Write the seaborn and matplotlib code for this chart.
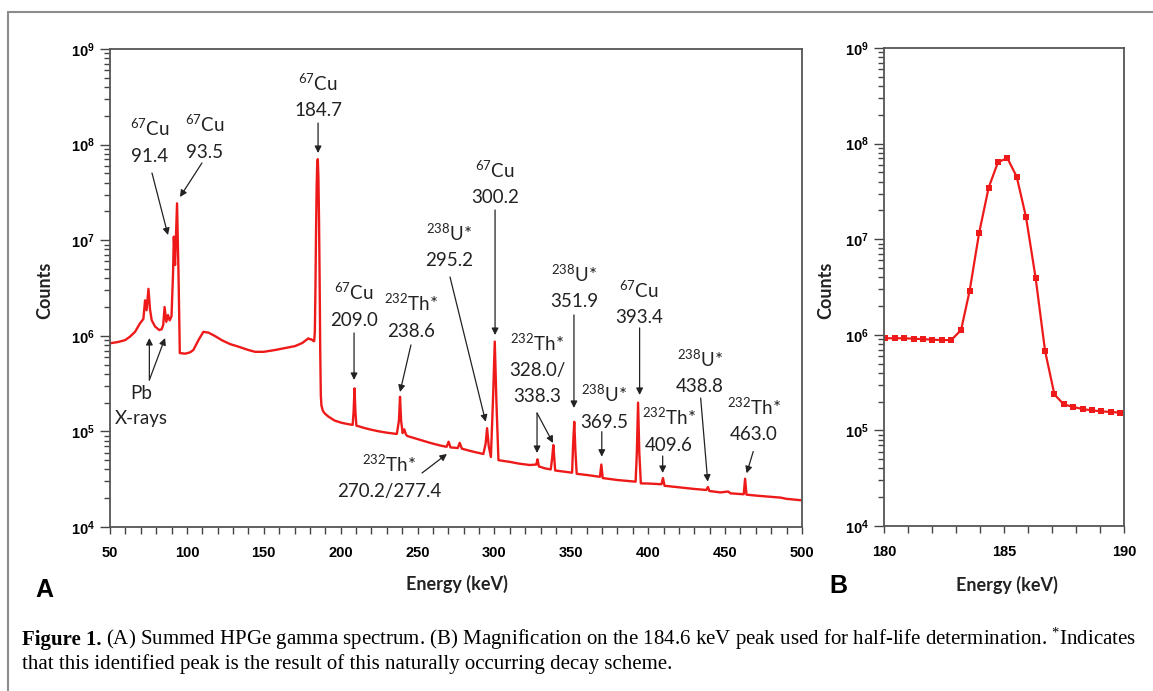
import matplotlib

matplotlib.use("Agg")
import matplotlib.pyplot as plt
import numpy as np
import pandas as pd
import seaborn as sns
from matplotlib.lines import Line2D
from matplotlib.ticker import FuncFormatter, LogLocator, MultipleLocator, NullFormatter


# summed HPGe spectrum (panel A); 180-190 keV comes from panel B
SPEC_ENERGY = [
    50.0, 55.0, 59.8, 63.0, 66.3, 69.5, 71.7, 72.8, 73.8, 75.0, 76.0, 77.1, 79.3, 82.0,
    83.6, 84.6, 85.5, 86.6, 87.7, 88.8, 90.0, 91.0, 91.5, 92.3, 93.6, 94.6, 95.4, 98.8,
    102.0, 104.2, 107.5, 110.7, 114.0, 118.0, 122.7, 128.0, 133.5, 140.0, 144.3, 150.0,
    157.3, 165.0, 170.3, 175.0, 179.0,
    192.0, 196.0, 200.6, 205.0, 207.8, 208.4, 209.0, 209.6, 210.2, 215.0, 220.0, 225.0,
    230.0, 236.5, 237.9, 238.6, 239.3, 240.3, 241.4, 242.4, 243.3, 250.0, 258.0, 265.0,
    268.9, 270.2, 271.4, 276.2, 277.4, 278.8, 285.0, 292.8, 294.3, 295.2, 296.3, 297.7,
    299.2, 300.2, 301.3, 302.6, 310.0, 316.0, 323.0, 327.2, 328.0, 328.9, 333.0, 336.6,
    337.5, 338.3, 339.5, 345.0, 350.5, 351.1, 351.9, 352.7, 353.5, 360.0, 368.6, 369.5,
    370.4, 380.0, 391.8, 392.6, 393.4, 394.2, 395.2, 400.0, 408.6, 409.6, 410.6, 420.0,
    430.0, 437.8, 438.8, 439.8, 447.0, 452.0, 453.5, 462.1, 463.0, 463.9, 470.0, 480.0,
    486.0, 490.0, 500.0,
]
SPEC_COUNTS = [
    8.35e5, 8.6e5, 9.0e5, 9.8e5, 1.1e6, 1.35e6, 1.5e6, 2.35e6, 1.85e6, 3.1e6, 1.9e6, 1.46e6, 1.25e6, 1.15e6,
    1.17e6, 1.3e6, 2.0e6, 1.4e6, 1.65e6, 1.45e6, 1.6e6, 4.5e6, 1.09e7, 5.5e6, 2.43e7, 4.0e6, 6.6e5, 6.5e5,
    6.7e5, 7.1e5, 9.0e5, 1.1e6, 1.08e6, 1.0e6, 9.0e5, 8.2e5, 7.7e5, 7.1e5, 6.8e5, 6.8e5,
    7.1e5, 7.5e5, 7.8e5, 8.4e5, 9.4e5,
    1.43e5, 1.3e5, 1.23e5, 1.19e5, 1.17e5, 1.6e5, 2.82e5, 1.6e5, 1.15e5, 1.09e5, 1.04e5, 1.0e5,
    9.7e4, 9.4e4, 1.3e5, 2.3e5, 1.3e5, 9.6e4, 1.05e5, 9.3e4, 8.95e4, 8.3e4, 7.6e4, 7.1e4,
    6.9e4, 7.8e4, 6.8e4, 6.7e4, 7.6e4, 6.6e4, 6.2e4, 5.8e4, 7.5e4, 1.08e5, 7.0e4, 5.4e4,
    2.5e5, 8.7e5, 2.0e5, 5.0e4, 4.8e4, 4.6e4, 4.45e4, 4.5e4, 5.1e4, 4.3e4, 4.1e4, 4.0e4,
    5.2e4, 7.2e4, 3.9e4, 3.8e4, 3.7e4, 7.0e4, 1.26e5, 6.0e4, 3.6e4, 3.5e4, 3.35e4, 4.5e4,
    3.25e4, 3.1e4, 2.98e4, 6.0e4, 2.0e5, 6.0e4, 2.86e4, 2.85e4, 2.8e4, 3.25e4, 2.7e4, 2.6e4,
    2.5e4, 2.44e4, 2.62e4, 2.38e4, 2.3e4, 2.35e4, 2.25e4, 2.2e4, 3.2e4, 2.18e4, 2.13e4, 2.07e4,
    2.03e4, 1.97e4, 1.9e4,
]

# channels around the 184.6 keV peak (panel B)
ZOOM_ENERGY = [
    180.06, 180.45, 180.84, 181.23, 181.62, 182.02, 182.41, 182.80, 183.21, 183.57, 183.96,
    184.36, 184.75, 185.14, 185.53, 185.92, 186.32, 186.71, 187.10, 187.49, 187.89, 188.28,
    188.67, 189.06, 189.45, 189.85,
]
ZOOM_COUNTS = [
    9.2e5, 9.2e5, 9.2e5, 9.1e5, 9.0e5, 8.9e5, 8.8e5, 8.8e5, 1.12e6, 2.9e6, 1.15e7,
    3.46e7, 6.4e7, 7.05e7, 4.5e7, 1.69e7, 3.9e6, 6.8e5, 2.38e5, 1.87e5, 1.76e5, 1.67e5,
    1.62e5, 1.58e5, 1.56e5, 1.53e5,
]

# peak labels: text lines, centre (keV), baseline of the last line (log10 counts)
PEAK_LABELS = [
    (["$^{67}$Cu", "91.4"], 76.0, 7.821),
    (["$^{67}$Cu", "93.5"], 111.8, 7.863),
    (["$^{67}$Cu", "184.7"], 185.3, 8.302),
    (["$^{67}$Cu", "209.0"], 208.7, 6.106),
    (["$^{232}$Th*", "238.6"], 245.7, 5.991),
    (["$^{232}$Th*", "270.2/277.4"], 231.4, 4.311),
    (["$^{238}$U*", "295.2"], 270.4, 6.730),
    (["$^{67}$Cu", "300.2"], 300.4, 7.386),
    (["$^{232}$Th*", "328.0/", "338.3"], 327.7, 5.311),
    (["$^{238}$U*", "351.9"], 351.7, 6.304),
    (["$^{238}$U*", "369.5"], 371.2, 5.039),
    (["$^{67}$Cu", "393.4"], 394.0, 6.131),
    (["$^{232}$Th*", "409.6"], 413.5, 4.798),
    (["$^{238}$U*", "438.8"], 433.7, 5.415),
    (["$^{232}$Th*", "463.0"], 468.8, 4.910),
    (["Pb", "X-rays"], 70.2, 5.077),
]
# arrows: (tail, head), each as (keV, log10 counts)
PEAK_ARROWS = [
    ((77.3, 7.703), (87.7, 7.054)),
    ((109.8, 7.808), (95.5, 7.452)),
    ((185.3, 8.226), (185.3, 7.912)),
    ((208.7, 6.030), (208.7, 5.538)),
    ((245.7, 5.904), (238.6, 5.412)),
    ((252.9, 4.565), (269.1, 4.764)),
    ((271.1, 6.615), (294.3, 5.101)),
    ((300.4, 7.316), (300.4, 6.008)),
    ((327.7, 5.192), (327.7, 4.774)),
    ((327.7, 5.192), (338.1, 4.879)),
    ((351.7, 6.218), (351.7, 5.245)),
    ((369.8, 4.997), (369.8, 4.735)),
    ((394.4, 6.082), (394.4, 5.381)),
    ((409.4, 4.743), (409.4, 4.565)),
    ((434.1, 5.349), (438.7, 4.474)),
    ((468.3, 4.790), (464.0, 4.562)),
    ((75.6, 5.538), (75.6, 5.977)),
    ((75.6, 5.538), (85.8, 5.977)),
]

CAPTION_1 = ("(A) Summed HPGe gamma spectrum. (B) Magnification on the 184.6 keV peak "
             "used for half-life determination. $^{*}$Indicates")
CAPTION_2 = "that this identified peak is the result of this naturally occurring decay scheme."

W, H = 1153, 691
RED = "#ee1a1a"
INK = "#222222"
LINE_PT = 18.3


def axes_box(left, top, right, bottom):
    return [left / W, 1 - bottom / H, (right - left) / W, (bottom - top) / H]


def style_axes(ax, xlim, major, minor):
    ax.set_yscale("log")
    ax.set_ylim(1e4, 1e9)
    ax.set_xlim(*xlim)
    ax.set_xlabel("")
    ax.set_ylabel("")
    ax.xaxis.set_major_locator(MultipleLocator(major))
    ax.xaxis.set_minor_locator(MultipleLocator(minor))
    ax.yaxis.set_major_locator(LogLocator(base=10, numticks=12))
    ax.yaxis.set_minor_locator(LogLocator(base=10, subs=np.arange(2, 10), numticks=12))
    ax.yaxis.set_minor_formatter(NullFormatter())
    ax.yaxis.set_major_formatter(FuncFormatter(lambda v, _: f"$10^{{{int(round(np.log10(v)))}}}$"))
    for spine in ax.spines.values():
        spine.set_visible(True)
        spine.set_color("#555555")
        spine.set_linewidth(1.3)
    ax.tick_params(which="both", direction="out", color="#444444", width=1.0, labelsize=10.5,
                   top=False, right=False)
    ax.tick_params(axis="y", which="major", length=7, pad=4)
    ax.tick_params(axis="y", which="minor", length=4)
    ax.tick_params(axis="x", which="major", length=5, pad=9)
    ax.tick_params(axis="x", which="minor", length=5)
    plt.setp(ax.get_xticklabels() + ax.get_yticklabels(),
             fontfamily="Liberation Sans", fontweight="bold", color="black")


def main() -> None:
    sns.set_style("ticks")
    plt.rcParams["font.family"] = ["Lato", "DejaVu Sans"]
    plt.rcParams["mathtext.default"] = "regular"

    fig = plt.figure(figsize=(W / 100, H / 100), dpi=100)
    ax_a = fig.add_axes(axes_box(110, 49, 802, 527))
    ax_b = fig.add_axes(axes_box(884, 48, 1124, 526))

    spec = pd.DataFrame({
        "energy": SPEC_ENERGY + ZOOM_ENERGY,
        "counts": SPEC_COUNTS + ZOOM_COUNTS,
    }).sort_values("energy")
    sns.lineplot(data=spec, x="energy", y="counts", ax=ax_a, color=RED, lw=1.7,
                 estimator=None, sort=True)

    zoom = pd.DataFrame({"energy": ZOOM_ENERGY, "counts": ZOOM_COUNTS})
    sns.lineplot(data=zoom, x="energy", y="counts", ax=ax_b, color=RED, lw=1.6,
                 marker="s", markersize=4.5, markeredgewidth=0, estimator=None)

    style_axes(ax_a, (50, 500), 50, 10)
    style_axes(ax_b, (180, 190), 5, 1)

    for lines, x, base in PEAK_LABELS:
        n = len(lines)
        for i, line in enumerate(lines):
            ax_a.annotate(line, xy=(x, 10 ** base), xytext=(0, (n - 1 - i) * LINE_PT),
                          textcoords="offset points", ha="center", va="baseline",
                          fontsize=13.5, color=INK)
    for (x0, y0), (x1, y1) in PEAK_ARROWS:
        ax_a.annotate("", xy=(x1, 10 ** y1), xytext=(x0, 10 ** y0),
                      arrowprops=dict(arrowstyle="-|>", color=INK, lw=0.9,
                                      mutation_scale=10, shrinkA=0, shrinkB=0))

    label_kw = dict(fontsize=13, fontweight="bold", color=INK, ha="center", va="center")
    fig.text(45 / W, 1 - 290 / H, "Counts", rotation=90, **label_kw)
    fig.text(826 / W, 1 - 290 / H, "Counts", rotation=90, **label_kw)
    fig.text(457 / W, 1 - 584 / H, "Energy (keV)", **label_kw)
    fig.text(1007 / W, 1 - 585 / H, "Energy (keV)", **label_kw)
    panel_kw = dict(fontsize=18, fontweight="bold", color="black", ha="center", va="center",
                    fontfamily="Liberation Sans")
    fig.text(44 / W, 1 - 590 / H, "A", **panel_kw)
    fig.text(838 / W, 1 - 586 / H, "B", **panel_kw)

    # caption
    cap_kw = dict(fontfamily="Liberation Serif", fontsize=15, color="black", va="baseline")
    renderer = fig.canvas.get_renderer()
    head = fig.text(22 / W, 1 - 645 / H, "Figure 1.", fontweight="bold", **cap_kw)
    x_after = head.get_window_extent(renderer).x1 + 4
    fig.text(x_after / W, 1 - 645 / H, CAPTION_1, **cap_kw)
    fig.text(22 / W, 1 - 669 / H, CAPTION_2, **cap_kw)

    # frame around the figure panel
    frame_kw = dict(transform=fig.transFigure, color="#8c8c8c", lw=1.5)
    fig.add_artist(Line2D([8 / W, 8 / W], [0, 1 - 12 / H], **frame_kw))
    fig.add_artist(Line2D([8 / W, 1], [1 - 12 / H, 1 - 12 / H], **frame_kw))

    fig.savefig("out.png", dpi=100)
    plt.close(fig)


if __name__ == "__main__":
    main()
